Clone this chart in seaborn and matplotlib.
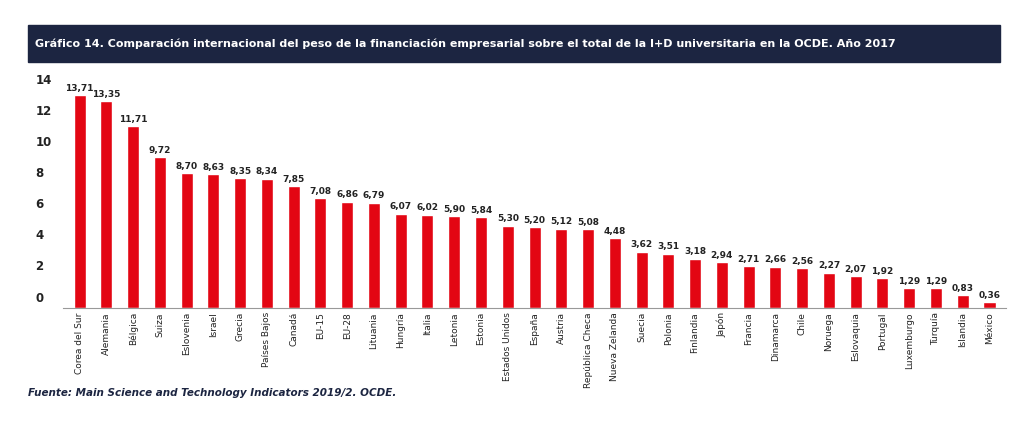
import matplotlib
matplotlib.use("Agg")
import matplotlib.pyplot as plt
import matplotlib.transforms as mtransforms
import seaborn as sns
import pandas as pd

countries = ["Corea del Sur","Alemania","Bélgica","Suiza","Eslovenia","Israel","Grecia","Países Bajos","Canadá","EU-15","EU-28","Lituania","Hungría","Italia","Letonia","Estonia","Estados Unidos","España","Austria","República Checa","Nueva Zelanda","Suecia","Polonia","Finlandia","Japón","Francia","Dinamarca","Chile","Noruega","Eslovaquia","Portugal","Luxemburgo","Turquía","Islandia","México"]
values = [13.71,13.35,11.71,9.72,8.70,8.63,8.35,8.34,7.85,7.08,6.86,6.79,6.07,6.02,5.90,5.84,5.30,5.20,5.12,5.08,4.48,3.62,3.51,3.18,2.94,2.71,2.66,2.56,2.27,2.07,1.92,1.29,1.29,0.83,0.36]
yticks = [0,2,4,6,8,10,12,14]

df = pd.DataFrame({"pais": countries, "valor": values})
sns.set_theme(style="white")
plt.rcParams['font.family'] = ['DejaVu Sans']

fig = plt.figure(figsize=(10.24, 4.26), dpi=100)
navy = "#1c2541"
fig.patches.append(plt.Rectangle((0.027, 1-62/426), 0.95, 37/426, transform=fig.transFigure, color=navy, zorder=0))
fig.text(0.034, 1-44/426, "Gráfico 14. Comparación internacional del peso de la financiación empresarial sobre el total de la I+D universitaria en la OCDE. Año 2017",
         color="white", fontsize=8, fontweight="bold", va="center")

ax = fig.add_axes([0.062, 1-308/426, 0.92, (308-83)/426])
sns.barplot(data=df, x="pais", y="valor", color="#e30613", width=0.45, ax=ax, saturation=1)
ax.set_ylim(0, 14.5)
ax.set_xlim(-0.6, len(countries)-0.4)
ax.set_yticks([])
off = mtransforms.ScaledTranslation(-28/100, 10/100, fig.dpi_scale_trans)
for t in yticks:
    ax.text(0, t, str(t), transform=ax.get_yaxis_transform() + off, ha="left", va="center",
            fontsize=8.5, fontweight="bold", color="#222")
ax.tick_params(axis="x", length=0, pad=3)
ax.set_xticks(range(len(countries)))
ax.set_xticklabels(countries, rotation=90, fontsize=6.5, color="#222")
ax.set_xlabel(""); ax.set_ylabel("")
for s in ["top","right","left"]:
    ax.spines[s].set_visible(False)
ax.spines["bottom"].set_color("#999")
ax.spines["bottom"].set_linewidth(0.8)
for i, v in enumerate(values):
    ax.text(i, v + 0.15, f"{v:.2f}".replace(".", ","), ha="center", va="bottom", fontsize=6.5, fontweight="bold", color="#222")

fig.text(0.027, 1-393/426, "Fuente: Main Science and Technology Indicators 2019/2. OCDE.", color=navy,
         fontsize=7.5, fontweight="bold", style="italic", va="center")
fig.savefig("out.png", dpi=100)
